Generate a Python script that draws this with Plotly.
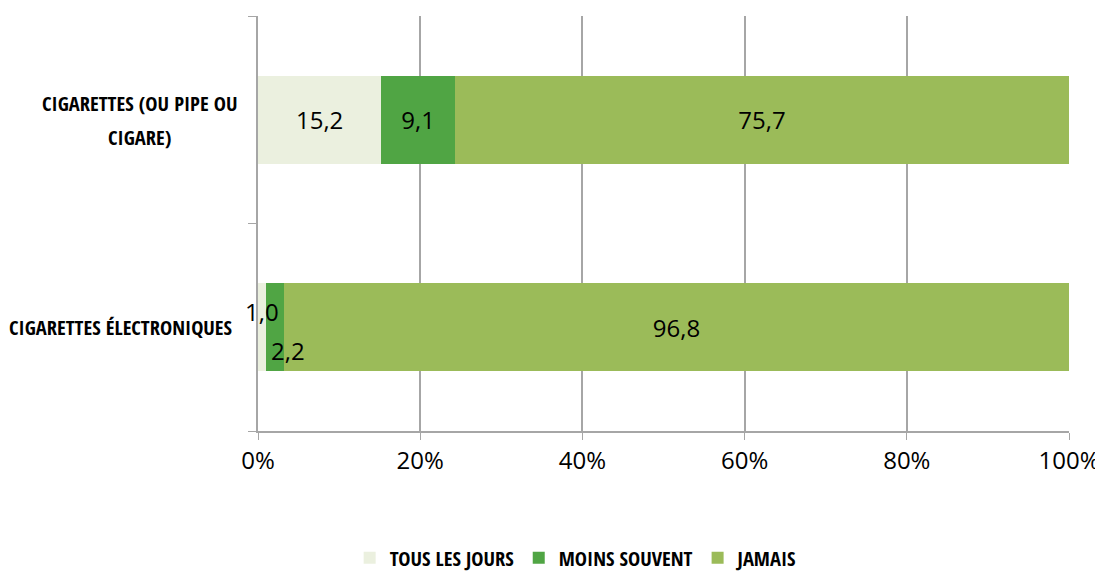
import plotly.graph_objects as go

categories = ["CIGARETTES ÉLECTRONIQUES", "CIGARETTES (OU PIPE OU<br>CIGARE)"]
series_names = ["TOUS LES JOURS", "MOINS SOUVENT", "JAMAIS"]
tous_les_jours = [1.0, 15.2]
moins_souvent = [2.2, 9.1]
jamais = [96.8, 75.7]
colors = ["#EBF0DF", "#50A544", "#9BBB59"]
x_tickvals = [0, 20, 40, 60, 80, 100]
x_ticktext = ["0%", "20%", "40%", "60%", "80%", "100%"]

series = [tous_les_jours, moins_souvent, jamais]
label_font = dict(family="Open Sans, Liberation Sans, Arial", size=24, color="#000000")
cond_font = dict(family="Open Sans Condensed, Roboto Condensed, sans-serif", size=20.5, color="#000000")

fig = go.Figure()
for name, vals, col in zip(series_names, series, colors):
    texts = [f"{v:.1f}".replace(".", ",") if v >= 5 else "" for v in vals]
    fig.add_trace(go.Bar(
        y=categories, x=vals, name=name, orientation="h",
        marker=dict(color=col, line=dict(width=0)),
        text=texts, textposition="inside", insidetextanchor="middle",
        textfont=label_font, width=0.425, textangle=0,
        constraintext="none",
        hoverinfo="x+y+name",
    ))

annots = []
# labels for tiny segments placed just outside the bar centre
cum = [0.0, 0.0]
for si, vals in enumerate(series):
    for ci, v in enumerate(vals):
        if v < 5:
            annots.append(dict(
                x=cum[ci] + v / 2, y=categories[ci], xref="x", yref="y",
                text=f"{v:.1f}".replace(".", ","), showarrow=False,
                yshift=(16 if si == 0 else -23), xshift=(0 if si == 0 else 13),
                font=label_font,
            ))
        cum[ci] += v

# category labels: single lines right-aligned at the axis, wrapped labels centred
line_gap = 34
for cat in categories:
    lines = cat.split("<br>")
    n = len(lines)
    for li, line in enumerate(lines):
        annots.append(dict(
            x=(-0.1455 if n > 1 else -0.0296), xref="paper", y=cat, yref="y",
            text=line, showarrow=False,
            xanchor=("center" if n > 1 else "right"),
            yshift=((n - 1) / 2 - li) * line_gap,
            font=cond_font,
        ))

fig.update_layout(
    barmode="stack",
    width=1103, height=572,
    margin=dict(l=250, r=42, t=8, b=149, autoexpand=False),
    plot_bgcolor="white", paper_bgcolor="white",
    annotations=annots,
    uniformtext=dict(mode=False),
    legend=dict(
        orientation="h", x=0.113, xanchor="left", y=-0.306, yanchor="middle",
        font=cond_font, traceorder="normal", itemwidth=30,
    ),
    xaxis=dict(
        range=[0, 100], tickvals=x_tickvals, ticktext=x_ticktext,
        showgrid=True, gridcolor="#A6A6A6", gridwidth=1.5,
        showline=True, linecolor="#A6A6A6", linewidth=1.5,
        ticks="outside", ticklen=7, tickcolor="#A6A6A6",
        tickfont=label_font, automargin=False,
        zeroline=False, fixedrange=True,
    ),
    yaxis=dict(
        type="category", tickson="boundaries",
        showline=True, linecolor="#A6A6A6", linewidth=1.5,
        ticks="outside", ticklen=8, tickcolor="#A6A6A6",
        showticklabels=False, automargin=False,
        showgrid=False,
    ),
)

fig.write_html("out.html")
